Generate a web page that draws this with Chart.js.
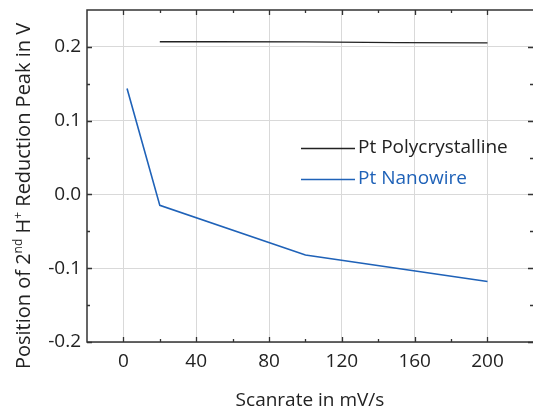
<!DOCTYPE html>
<html>
<head>
<meta charset="utf-8">
<script src="https://cdn.jsdelivr.net/npm/chart.js@4"></script>
<style>
  body { margin: 0; background: #fff; }
  #wrap { width: 533px; height: 410px; }
</style>
</head>
<body>
<div id="wrap"><canvas id="peak-chart" width="533" height="410"></canvas></div>
<script>
// data
var polyX = [20, 50, 100, 150, 200];
var polyY = [0.207, 0.207, 0.2068, 0.2058, 0.2055];
var wireX = [2, 20, 100, 200];
var wireY = [0.1435, -0.0148, -0.082, -0.118];
var xTicks = [0, 40, 80, 120, 160, 200];
var xMinor = [20, 60, 100, 140, 180];
var yTicks = [-0.2, -0.1, 0.0, 0.1, 0.2];
var yMinor = [-0.15, -0.05, 0.05, 0.15];

var FONT = "'Open Sans', 'Noto Sans', sans-serif";
var BLUE = '#1f62b8';

function toPoints(xs, ys) {
    var pts = [];
    for (var i = 0; i < xs.length; i++) pts.push({ x: xs[i], y: ys[i] });
    return pts;
}

// frame, inward ticks, legend and the y title with superscripts
var decorPlugin = {
    id: 'decor',
    afterDraw: function (chart) {
        var ctx = chart.ctx;
        var a = chart.chartArea;
        var xs = chart.scales.x, ys = chart.scales.y;
        ctx.save();
        ctx.strokeStyle = '#333';
        ctx.lineWidth = 1.5;
        ctx.strokeRect(a.left, a.top, a.right - a.left + 1, a.bottom - a.top);

        ctx.lineWidth = 1.3;
        function xt(list, len) {
            list.forEach(function (v) {
                var p = Math.round(xs.getPixelForValue(v)) + 0.5;
                ctx.beginPath();
                ctx.moveTo(p, a.bottom); ctx.lineTo(p, a.bottom - len);
                ctx.moveTo(p, a.top); ctx.lineTo(p, a.top + len);
                ctx.stroke();
            });
        }
        function yt(list, len) {
            list.forEach(function (v) {
                var p = Math.round(ys.getPixelForValue(v)) + 0.5;
                ctx.beginPath();
                ctx.moveTo(a.left, p); ctx.lineTo(a.left + len, p);
                ctx.moveTo(a.right, p); ctx.lineTo(a.right - len, p);
                ctx.stroke();
            });
        }
        xt(xTicks, 5); xt(xMinor, 3);
        yt(yTicks, 5); yt(yMinor, 3);

        // legend
        var items = [
            { text: 'Pt Polycrystalline', color: '#222' },
            { text: 'Pt Nanowire', color: BLUE }
        ];
        ctx.font = '19px ' + FONT;
        ctx.textBaseline = 'middle';
        items.forEach(function (it, i) {
            var y = 148 + i * 31;
            ctx.strokeStyle = it.color;
            ctx.lineWidth = 1.3;
            ctx.beginPath();
            ctx.moveTo(301, y + 0.5); ctx.lineTo(355, y + 0.5);
            ctx.stroke();
            ctx.fillStyle = it.color;
            ctx.fillText(it.text, 358, y);
        });

        // y title
        var parts = [
            { t: 'Position of 2', s: 0 },
            { t: 'nd', s: 1 },
            { t: ' H', s: 0 },
            { t: '+', s: 1 },
            { t: ' Reduction Peak in V', s: 0 }
        ];
        var big = '20px ' + FONT, small = '12px ' + FONT;
        var total = 0;
        parts.forEach(function (p) {
            ctx.font = p.s ? small : big;
            p.w = ctx.measureText(p.t).width;
            total += p.w;
        });
        ctx.translate(23, 196);
        ctx.rotate(-Math.PI / 2);
        ctx.fillStyle = '#222';
        ctx.textBaseline = 'alphabetic';
        var x = -total / 2;
        parts.forEach(function (p) {
            ctx.font = p.s ? small : big;
            ctx.fillText(p.t, x, p.s ? -1 : 7);
            x += p.w;
        });
        ctx.restore();
    }
};

var ctx = document.getElementById('peak-chart').getContext('2d');
var peakChart = new Chart(ctx, {
    type: 'scatter',
    data: {
        datasets: [
            {
                label: 'Pt Polycrystalline',
                data: toPoints(polyX, polyY),
                showLine: true,
                borderColor: '#222',
                borderWidth: 1.4,
                pointRadius: 0
            },
            {
                label: 'Pt Nanowire',
                data: toPoints(wireX, wireY),
                showLine: true,
                borderColor: BLUE,
                borderWidth: 1.6,
                pointRadius: 0
            }
        ]
    },
    options: {
        responsive: false,
        animation: false,
        layout: { padding: { left: 0, right: 0, top: 10, bottom: 0 } },
        plugins: {
            legend: { display: false },
            tooltip: { enabled: false }
        },
        scales: {
            x: {
                type: 'linear',
                min: -20,
                max: 225,
                afterBuildTicks: function (scale) {
                    scale.ticks = xTicks.map(function (v) { return { value: v }; });
                },
                afterFit: function (scale) {
                    scale.height = 68;
                    scale.paddingLeft = 0;
                    scale.paddingRight = 0;
                },
                grid: { color: '#d9d9d9', lineWidth: 1, drawTicks: false },
                border: { display: false },
                ticks: {
                    padding: 8,
                    color: '#222',
                    font: { family: FONT, size: 19 }
                },
                title: {
                    display: true,
                    text: 'Scanrate in mV/s',
                    color: '#222',
                    font: { family: FONT, size: 19 },
                    padding: { top: 0, bottom: -2 }
                }
            },
            y: {
                type: 'linear',
                min: -0.2,
                max: 0.25,
                afterBuildTicks: function (scale) {
                    scale.ticks = yTicks.map(function (v) { return { value: v }; });
                },
                afterFit: function (scale) {
                    scale.width = 87;
                    scale.paddingTop = 0;
                    scale.paddingBottom = 0;
                },
                grid: { color: '#d9d9d9', lineWidth: 1, drawTicks: false },
                border: { display: false },
                ticks: {
                    padding: 6,
                    color: '#222',
                    font: { family: FONT, size: 19 },
                    callback: function (v) { return v.toFixed(1); }
                }
            }
        }
    },
    plugins: [decorPlugin]
});
</script>
</body>
</html>
